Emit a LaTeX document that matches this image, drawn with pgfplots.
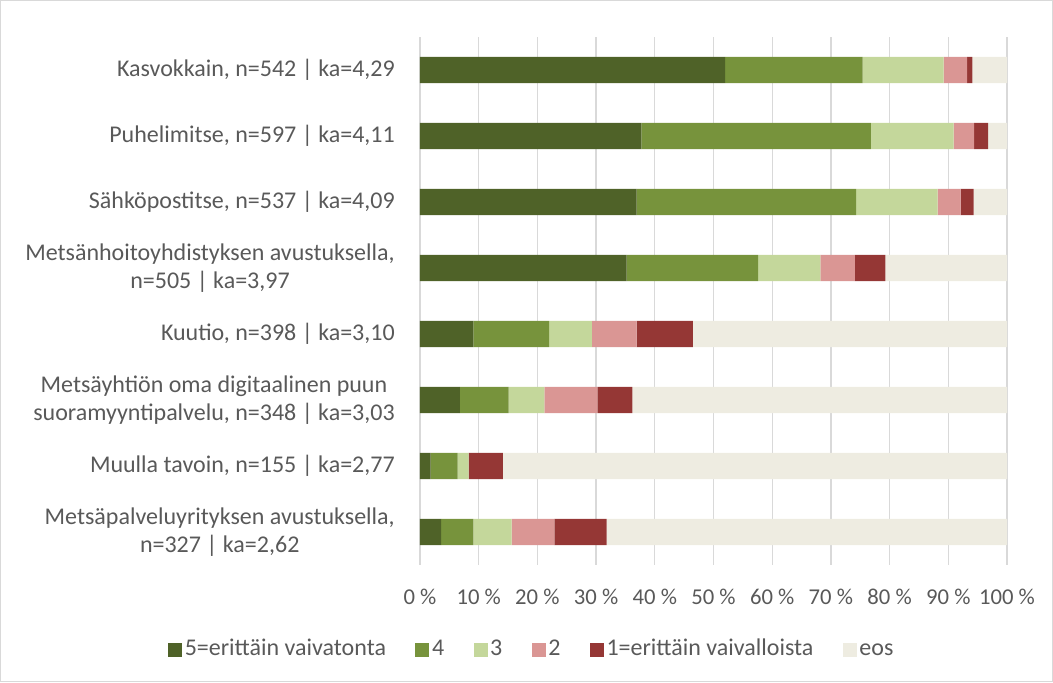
\documentclass[border=0pt]{standalone}
\usepackage{fontspec}
\setmainfont{Carlito}
\usepackage{pgfplots}
\pgfplotsset{compat=1.18}

\definecolor{c5}{HTML}{4F6228}
\definecolor{c4}{HTML}{77933C}
\definecolor{c3}{HTML}{C4D79B}
\definecolor{c2}{HTML}{DA9694}
\definecolor{c1}{HTML}{953735}
\definecolor{ceos}{HTML}{EEECE1}
\definecolor{txt}{HTML}{595959}
\definecolor{gridc}{HTML}{D9D9D9}

% row: 1 = Kasvokkain ... 8 = Metsäpalveluyrityksen
\pgfplotstableread{
row v5   v4   v3   v2  v1  eos
1   52.0 23.4 13.8 4.0 0.9 5.9
2   37.7 39.1 14.1 3.5 2.4 3.2
3   36.9 37.4 13.9 3.9 2.2 5.7
4   35.2 22.4 10.6 5.9 5.2 20.7
5   9.1  12.9 7.3  7.6 9.6 53.5
6   6.8  8.3  6.1  9.0 6.0 63.8
7   1.8  4.6  1.9  0.0 5.8 85.9
8   3.6  5.5  6.5  7.3 8.9 68.2
}\datatable

\begin{document}
\begin{tikzpicture}[x=1pt,y=1pt]
\useasboundingbox (-315,-87.75) rectangle (474.75,423.75);
\draw[gridc, line width=0.75pt] (-314.6,-87.4) rectangle (474.4,423.4);
\begin{axis}[
    at={(0,0)}, anchor=south west,
    scale only axis,
    width=440.25pt, height=396pt,
    xbar stacked,
    bar width=19.8pt,
    xmin=0, xmax=100,
    ymin=0.5, ymax=8.5,
    y dir=reverse,
    axis line style={draw=none},
    major tick length=0pt,
    xmajorgrids,
    grid style={gridc, line width=1pt},
    xtick={0,10,...,100},
    xticklabels={0 \%,10 \%,20 \%,30 \%,40 \%,50 \%,60 \%,70 \%,80 \%,90 \%,100 \%},
    xticklabel style={font=\fontsize{17}{20}\selectfont, text=txt, anchor=center, inner sep=0pt, yshift=-24pt},
    ytick={1,...,8},
    yticklabels={
        {Kasvokkain, n=542 | ka=4,29},
        {Puhelimitse, n=597 | ka=4,11},
        {Sähköpostitse, n=537 | ka=4,09},
        {Metsänhoitoyhdistyksen avustuksella,\\n=505 | ka=3,97},
        {Kuutio, n=398 | ka=3,10},
        {Metsäyhtiön oma digitaalinen puun\\suoramyyntipalvelu, n=348 | ka=3,03},
        {Muulla tavoin, n=155 | ka=2,77},
        {Metsäpalveluyrityksen avustuksella,\\n=327 | ka=2,62}
    },
    yticklabel style={font=\fontsize{18}{21}\selectfont, text=txt, align=center, anchor=east, inner sep=0pt, xshift=-18.75pt},
    legend style={
        at={(0.191,-0.161)}, anchor=center,
        draw=none, fill=none,
        legend columns=-1,
        font=\fontsize{18}{21}\selectfont, text=txt,
        nodes={text height=12pt, text depth=3.5pt},
        /tikz/every even column/.append style={column sep=20pt},
    },
    legend image code/.code={\fill[#1] (0pt,-5.25pt) rectangle (10.5pt,5.25pt);},
]
\addplot[fill=c5, draw=none] table[x=v5, y=row] {\datatable};
\addplot[fill=c4, draw=none] table[x=v4, y=row] {\datatable};
\addplot[fill=c3, draw=none] table[x=v3, y=row] {\datatable};
\addplot[fill=c2, draw=none] table[x=v2, y=row] {\datatable};
\addplot[fill=c1, draw=none] table[x=v1, y=row] {\datatable};
\addplot[fill=ceos, draw=none] table[x=eos, y=row] {\datatable};
\legend{5=erittäin vaivatonta, 4, 3, 2, 1=erittäin vaivalloista, eos}
\end{axis}
\end{tikzpicture}
\end{document}
